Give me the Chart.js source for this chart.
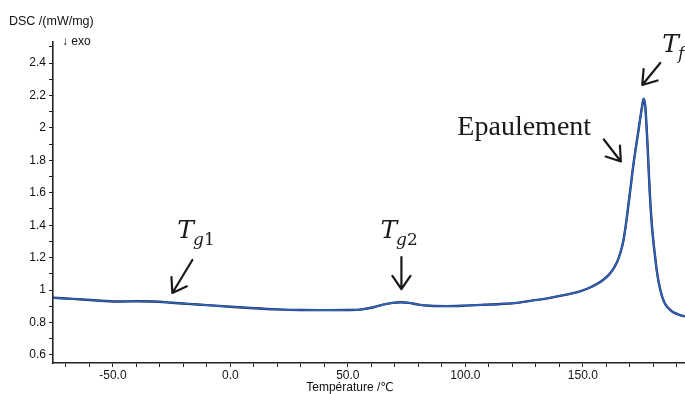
<!DOCTYPE html>
<html>
<head>
<meta charset="utf-8">
<script src="https://cdn.jsdelivr.net/npm/chart.js@4"></script>
<style>
html, body { margin: 0; padding: 0; background: #fff; }
#wrap { width: 685px; height: 394px; position: relative; }
</style>
</head>
<body>
<div id="wrap"><canvas id="dscCanvas"></canvas></div>
<script>
////////////data////////////
var temperature = [-75.5, -70, -63, -55, -47, -40, -33, -25, -18, -10, 0, 10, 20, 30, 40, 50, 56, 61, 65, 69, 72.5, 76, 80, 85, 92, 100, 108, 115, 122, 129, 136, 143, 148.5, 154, 158.5, 162, 164.5, 166, 167.2, 168.2, 169.2, 170.4, 171.6, 173.7, 175.2, 175.9, 176.6, 177.6, 178.5, 179.4, 180.5, 181.7, 183, 184.5, 186, 188, 190.5, 193.5];
var dscSignal = [0.953, 0.948, 0.942, 0.934, 0.929, 0.931, 0.929, 0.922, 0.915, 0.907, 0.897, 0.888, 0.881, 0.877, 0.876, 0.877, 0.881, 0.894, 0.910, 0.921, 0.925, 0.921, 0.910, 0.903, 0.901, 0.904, 0.909, 0.914, 0.921, 0.936, 0.952, 0.972, 0.990, 1.022, 1.06, 1.11, 1.17, 1.23, 1.30, 1.39, 1.50, 1.64, 1.78, 1.985, 2.13, 2.18, 2.13, 1.88, 1.60, 1.40, 1.24, 1.10, 1.00, 0.93, 0.895, 0.868, 0.850, 0.837];
var xTickLabels = [-50, 0, 50, 100, 150];
var yTickLabels = [0.6, 0.8, 1, 1.2, 1.4, 1.6, 1.8, 2, 2.2, 2.4];

//arrows + labels, tip given in data values, rest in px offsets from tip
var arrowNotes = [
	{ main: 'T', sub: 'g', num: '1', tip: [-24.7, 0.982], shaft: [20, -33], text: [5, -55] },
	{ main: 'T', sub: 'g', num: '2', tip: [72.8, 1.006], shaft: [0, -32], text: [-21, -51] },
	{ word: 'Epaulement', tip: [166.2, 1.793], shaft: [-17, -22], text: [-163.5, -26.5] },
	{ main: 'T', sub: 'f', num: '', tip: [175.3, 2.265], shaft: [18, -22], text: [20, -33] }
];

var points = temperature.map(function(t, i) { return { x: t, y: dscSignal[i] }; });

////////////text + arrows plugin////////////
var notesPlugin = {
	id: 'notes',
	afterDraw: function(chart) {
		var ctx = chart.ctx, xs = chart.scales.x, ys = chart.scales.y;
		ctx.save();
		ctx.fillStyle = '#111';
		ctx.textBaseline = 'alphabetic';

		//axis captions
		ctx.font = "12.5px 'Liberation Sans', 'DejaVu Sans'";
		ctx.textAlign = 'left';
		ctx.fillText('DSC /(mW/mg)', 9, 25);
		ctx.font = "12px 'Liberation Sans', 'DejaVu Sans'";
		ctx.fillText('\u2193 exo', 62, 45);
		ctx.textAlign = 'center';
		ctx.fillText('Température /\u2103', 350, 391);

		arrowNotes.forEach(function(n) {
			var px = xs.getPixelForValue(n.tip[0]), py = ys.getPixelForValue(n.tip[1]);
			//arrow
			ctx.strokeStyle = '#1a1a1a';
			ctx.lineWidth = 2.2;
			ctx.lineCap = 'round';
			var len = Math.sqrt(n.shaft[0] * n.shaft[0] + n.shaft[1] * n.shaft[1]);
			var ux = n.shaft[0] / len, uy = n.shaft[1] / len;
			ctx.beginPath();
			ctx.moveTo(px + n.shaft[0], py + n.shaft[1]);
			ctx.lineTo(px, py);
			[-0.6, 0.6].forEach(function(a) {
				var wx = ux * Math.cos(a) - uy * Math.sin(a), wy = ux * Math.sin(a) + uy * Math.cos(a);
				ctx.moveTo(px, py);
				ctx.lineTo(px + wx * 16, py + wy * 16);
			});
			ctx.stroke();

			//label
			var tx = px + n.text[0], ty = py + n.text[1];
			ctx.textAlign = 'left';
			ctx.fillStyle = '#1a1a1a';
			if (n.word) {
				ctx.font = "28px 'Liberation Serif'";
				ctx.fillText(n.word, tx, ty);
			} else {
				ctx.font = "italic 25px 'DejaVu Serif'";
				ctx.fillText(n.main, tx, ty);
				var sx = tx + ctx.measureText(n.main).width - 1;
				ctx.font = "italic 17px 'DejaVu Serif'";
				ctx.fillText(n.sub, sx, ty + 7);
				sx += ctx.measureText(n.sub).width;
				ctx.font = "17px 'DejaVu Serif'";
				ctx.fillText(n.num, sx, ty + 7);
			}
		});
		ctx.restore();
	}
};

////////////create chart////////////
var myChart = new Chart(document.getElementById('dscCanvas'), {
	type: 'line',
	data: {
		datasets: [{
			data: points,
			borderColor: '#2f66c4',
			borderWidth: 1.6,
			pointRadius: 0,
			fill: false,
			cubicInterpolationMode: 'monotone',
			order: 0
		}, {
			data: points,
			borderColor: '#1c2340',
			borderWidth: 2.4,
			pointRadius: 0,
			fill: false,
			cubicInterpolationMode: 'monotone',
			order: 1
		}]
	},
	options: {
		responsive: true,
		maintainAspectRatio: false,
		animation: false,
		layout: { padding: { top: 42, right: 0, left: 0, bottom: 0 } },
		plugins: { legend: { display: false }, tooltip: { enabled: false } },
		scales: {
			x: {
				type: 'linear',
				min: -75.5,
				max: 193.5,
				afterFit: function(s) { s.height = 31; },
				grid: { drawOnChartArea: false, drawTicks: true, tickLength: 4, color: '#222', lineWidth: 1 },
				border: { display: true, color: '#222', width: 1.6 },
				ticks: {
					stepSize: 10,
					includeBounds: false,
					autoSkip: false,
					maxRotation: 0,
					padding: 1,
					color: '#111',
					font: { family: "'Liberation Sans'", size: 12 },
					callback: function(v) {
						var r = Math.round(v);
						return (Math.abs(v - r) < 1e-6 && xTickLabels.indexOf(r) >= 0) ? r.toFixed(1) : '';
					}
				}
			},
			y: {
				min: 0.55,
				max: 2.53,
				afterFit: function(s) { s.width = 53; },
				grid: { drawOnChartArea: false, drawTicks: true, tickLength: 4, color: '#222', lineWidth: 1 },
				border: { display: true, color: '#222', width: 1.6 },
				ticks: {
					stepSize: 0.1,
					includeBounds: false,
					autoSkip: false,
					padding: 3,
					color: '#111',
					font: { family: "'Liberation Sans'", size: 12 },
					callback: function(v) {
						var hit = yTickLabels.filter(function(l) { return Math.abs(l - v) < 1e-6; });
						return hit.length ? String(Number(hit[0].toFixed(1))) : '';
					}
				}
			}
		}
	},
	plugins: [notesPlugin]
}); //end new Chart
</script>
</body>
</html>
